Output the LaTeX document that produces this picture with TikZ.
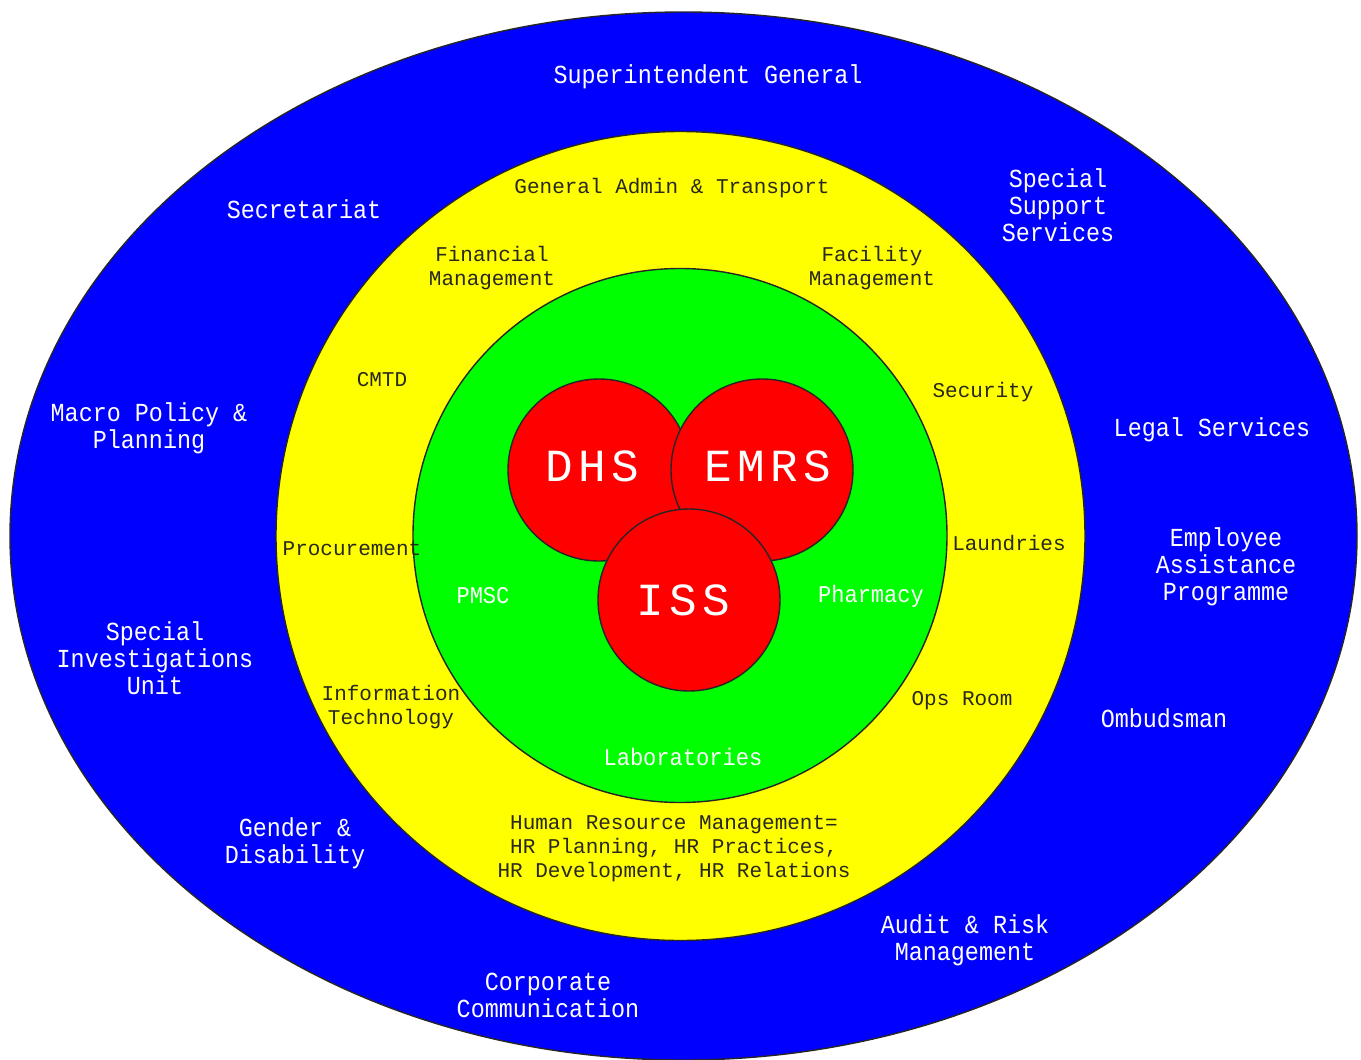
\documentclass[tikz,border=0pt]{standalone}
\usepackage{fontspec}
\newfontfamily\bluefont[FakeStretch=0.9]{Liberation Mono}
\newfontfamily\yellowfont{Liberation Mono}
\newfontfamily\greenfont[FakeStretch=0.92]{Liberation Mono}
\newfontfamily\corefont[LetterSpace=12]{Liberation Mono}
\definecolor{ringblue}{RGB}{0,0,255}
\definecolor{ringyellow}{RGB}{255,255,0}
\definecolor{ringgreen}{RGB}{0,255,0}
\definecolor{corered}{RGB}{255,0,0}
\definecolor{darktext}{RGB}{40,40,30}
\tikzset{
  ring/.style={draw=black!85, line width=1.4pt},
  core/.style={circle, draw=black!85, line width=1.4pt, fill=corered, minimum size=182pt, inner sep=0pt},
  bluetext/.style={text=white, align=center, inner sep=0pt, font=\bluefont\fontsize{26}{27}\selectfont},
  yellowtext/.style={text=darktext, align=center, inner sep=0pt, font=\yellowfont\fontsize{21}{24}\selectfont},
  greentext/.style={text=white, align=center, inner sep=0pt, font=\greenfont\fontsize{24}{26}\selectfont},
  coretext/.style={text=white, align=center, inner sep=0pt, font=\corefont\fontsize{46}{50}\selectfont}
}
\begin{document}
\begin{tikzpicture}[x=1pt,y=-1pt]
\useasboundingbox (0,0) rectangle (1361,1060);
\fill[white] (0,0) rectangle (1361,1060);
% rings
\draw[ring, fill=ringblue] (683.5,536) ellipse [x radius=673.5pt, y radius=524pt];
\draw[ring, fill=ringyellow] (680.5,536) circle [radius=404.5pt];
\draw[ring, fill=ringgreen] (680,535.5) circle [radius=267pt];
% core circles
\node[core] (dhs) at (599,470) {};
\node[core] (emrs) at (762,470) {};
\node[core] (iss) at (689,600) {};
\node[coretext] (dhsl) at (592,466) {DHS};
\node[coretext] (emrsl) at (768,466) {EMRS};
\node[coretext] (issl) at (683,600) {ISS};
% blue ring labels
\node[bluetext] (sg) at (708,77) {Superintendent General};
\node[bluetext] (sec) at (304,209) {Secretariat};
\node[bluetext] (sss) at (1058,205) {Special\\Support\\Services};
\node[bluetext] (mpp) at (149,428) {Macro Policy \&\\Planning};
\node[bluetext] (legal) at (1212,430) {Legal Services};
\node[bluetext] (eap) at (1226,567) {Employee\\Assistance\\Programme};
\node[bluetext] (siu) at (155,658) {Special\\Investigations\\Unit};
\node[bluetext] (omb) at (1164,718) {Ombudsman};
\node[bluetext] (gd) at (295,843) {Gender \&\\Disability};
\node[bluetext] (arm) at (965,940) {Audit \& Risk\\Management};
\node[bluetext] (cc) at (548,995) {Corporate\\Communication};
% yellow ring labels
\node[yellowtext] (gat) at (672,188) {General Admin \& Transport};
\node[yellowtext] (fin) at (492,268) {Financial\\Management};
\node[yellowtext] (fac) at (872,268) {Facility\\Management};
\node[yellowtext] (cmtd) at (382,380) {CMTD};
\node[yellowtext] (secu) at (983,392) {Security};
\node[yellowtext] (proc) at (352,549) {Procurement};
\node[yellowtext] (laun) at (1009,543) {Laundries};
\node[yellowtext] (it) at (391,707) {Information\\Technology};
\node[yellowtext] (ops) at (962,701) {Ops Room};
\node[yellowtext] (hrm) at (674,849) {Human Resource Management=\\HR Planning, HR Practices,\\HR Development, HR Relations};
% green ring labels
\node[greentext] (pmsc) at (483,596) {PMSC};
\node[greentext] (pharm) at (871,596) {Pharmacy};
\node[greentext] (labs) at (683,757) {Laboratories};
\end{tikzpicture}
\end{document}
